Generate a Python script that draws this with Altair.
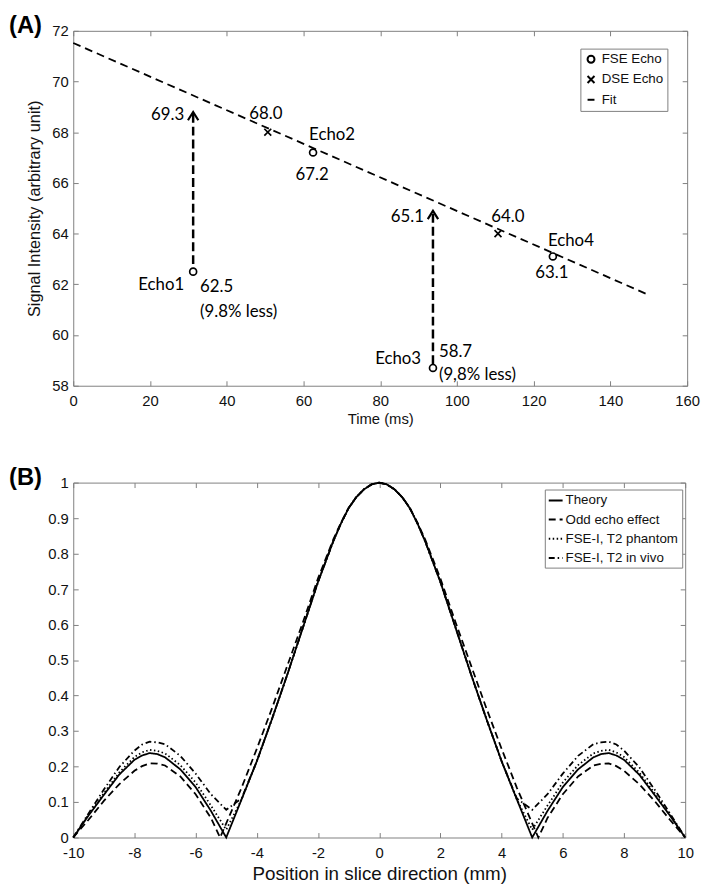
import altair as alt
import pandas as pd

# ---------------- Panel (A) data ----------------
fse_time = [31.25, 62.5, 93.75, 125.0]
fse_signal = [62.5, 67.2, 58.7, 63.1]
fse_names = ["Echo1", "Echo2", "Echo3", "Echo4"]
fse_value_labels = ["62.5", "67.2", "58.7", "63.1"]
dse_time = [50.7, 110.7]
dse_signal = [68.0, 64.0]
dse_value_labels = ["68.0", "64.0"]
fit_time = [0.0, 150.0]
fit_signal = [71.52, 61.58]
arrow_time = [31.25, 93.75]
arrow_from = [62.8, 58.85]
arrow_to = [68.8, 64.9]
arrow_labels = ["69.3", "65.1"]
less_labels = ["(9.8% less)", "(9,8% less)"]
legend_a = ["FSE Echo", "DSE Echo", "Fit"]
xticks_a = [0, 20, 40, 60, 80, 100, 120, 140, 160]
yticks_a = [58, 60, 62, 64, 66, 68, 70, 72]

# ---------------- Panel (B) data ----------------
series_b = ["Theory", "Odd echo effect", "FSE-I, T2 phantom", "FSE-I, T2 in vivo"]
pos = [-10, -9.5, -9, -8.5, -8, -7.75, -7.5, -7.25, -7, -6.5, -6, -5.5, -5, -4.5, -4, -3.5, -3, -2.5, -2,
       -1.5, -1.25, -1, -0.75, -0.5, -0.25, 0, 0.25, 0.5, 0.75, 1, 1.25, 1.5, 2, 2.5, 3, 3.5, 4, 4.5, 5,
       5.5, 6, 6.5, 7, 7.25, 7.5, 7.75, 8, 8.5, 9, 9.5, 10]
theory = [0, 0.062, 0.12, 0.177, 0.219, 0.231, 0.238, 0.235, 0.226, 0.192, 0.142, 0.075, 0.0, 0.107, 0.215,
          0.335, 0.46, 0.59, 0.72, 0.835, 0.885, 0.928, 0.959, 0.981, 0.995, 1.0, 0.995, 0.981, 0.959, 0.928,
          0.885, 0.835, 0.72, 0.59, 0.46, 0.335, 0.215, 0.107, 0.0, 0.075, 0.142, 0.192, 0.226, 0.235, 0.238,
          0.231, 0.219, 0.177, 0.12, 0.062, 0]
phantom = [0, 0.064, 0.125, 0.183, 0.227, 0.24, 0.247, 0.244, 0.237, 0.204, 0.155, 0.09, 0.022, 0.107, 0.215,
           0.335, 0.46, 0.59, 0.72, 0.835, 0.885, 0.928, 0.959, 0.981, 0.995, 1.0, 0.995, 0.981, 0.959, 0.928,
           0.885, 0.835, 0.72, 0.59, 0.46, 0.335, 0.215, 0.107, 0.022, 0.09, 0.155, 0.204, 0.237, 0.244, 0.247,
           0.24, 0.227, 0.183, 0.125, 0.064, 0]
invivo = [0, 0.068, 0.135, 0.198, 0.245, 0.262, 0.27, 0.268, 0.263, 0.23, 0.18, 0.122, 0.078, 0.11, 0.215,
          0.335, 0.46, 0.59, 0.72, 0.835, 0.885, 0.928, 0.959, 0.981, 0.995, 1.0, 0.995, 0.981, 0.959, 0.928,
          0.885, 0.835, 0.72, 0.59, 0.46, 0.335, 0.215, 0.11, 0.078, 0.122, 0.18, 0.23, 0.263, 0.268, 0.27,
          0.262, 0.245, 0.198, 0.135, 0.068, 0]
pos_odd = [-10, -9.5, -9, -8.5, -8, -7.75, -7.5, -7.25, -7, -6.5, -6, -5.5, -5.2, -5, -4.5, -4, -3.5, -3, -2.5,
           -2, -1.5, -1.25, -1, -0.75, -0.5, -0.25, 0, 0.25, 0.5, 0.75, 1, 1.25, 1.5, 2, 2.5, 3, 3.5, 4, 4.5,
           5, 5.2, 5.5, 6, 6.5, 7, 7.25, 7.5, 7.75, 8, 8.5, 9, 9.5, 10]
odd = [0, 0.05, 0.103, 0.15, 0.188, 0.201, 0.209, 0.208, 0.203, 0.172, 0.122, 0.055, 0.0, 0.04, 0.14, 0.25,
       0.365, 0.485, 0.605, 0.73, 0.84, 0.887, 0.929, 0.959, 0.981, 0.995, 1.0, 0.995, 0.981, 0.959, 0.929,
       0.887, 0.84, 0.73, 0.605, 0.485, 0.365, 0.25, 0.14, 0.04, 0.0, 0.055, 0.122, 0.172, 0.203, 0.208,
       0.209, 0.201, 0.188, 0.15, 0.103, 0.05, 0]
xticks_b = [-10, -8, -6, -4, -2, 0, 2, 4, 6, 8, 10]
yticks_b = [0, 0.1, 0.2, 0.3, 0.4, 0.5, 0.6, 0.7, 0.8, 0.9, 1]

FONT = "Liberation Sans"
ANN = "Lato"
GRAY = "#808080"
XPATH = "M-1,-1L1,1M1,-1L-1,1"
ARROW = "M-1,1.6L0,0L1,1.6"


def main_axis(orient, values, title=None, pad=5, title_size=16, title_pad=3):
    kw = dict(orient=orient, values=values, offset=-5, tickSize=5, tickColor=GRAY, tickWidth=1,
              domain=False, grid=False, labelFlush=False, labelOverlap=False, labelFont=FONT,
              labelFontSize=15, labelColor="#111111", labelPadding=pad, titleFont=FONT,
              titleFontSize=title_size, titleFontWeight="normal", titleColor="#111111",
              labelExpr="toString(datum.value)")
    if title is not None:
        kw["title"] = title
        kw["titlePadding"] = title_pad
    else:
        kw["title"] = None
    return alt.Axis(**kw)


def tick_axis(orient, values):
    return alt.Axis(orient=orient, values=values, offset=-5, tickSize=5, tickColor=GRAY, tickWidth=1,
                    domain=False, grid=False, labels=False, title=None)


# ---------------- Panel (A) ----------------
xsA = alt.Scale(domain=[0, 160], nice=False, zero=False)
ysA = alt.Scale(domain=[58, 72], nice=False, zero=False)

fit_df = pd.DataFrame({"t": fit_time, "s": fit_signal})
fit = alt.Chart(fit_df).mark_line(color="black", strokeWidth=1.8, strokeDash=[8, 5]).encode(
    x=alt.X("t:Q", scale=xsA,
            axis=main_axis("bottom", xticks_a, "Time (ms)", pad=8, title_size=15, title_pad=3)),
    y=alt.Y("s:Q", scale=ysA,
            axis=main_axis("left", yticks_a, "Signal Intensity (arbitrary unit)", title_size=16.5,
                           title_pad=9)),
)

pts_df = pd.DataFrame({
    "t": fse_time + dse_time,
    "s": fse_signal + dse_signal,
    "kind": ["FSE Echo"] * len(fse_time) + ["DSE Echo"] * len(dse_time),
})
pts = alt.Chart(pts_df).mark_point(filled=False, color="black", size=49, strokeWidth=1.7, opacity=1).encode(
    x=alt.X("t:Q", scale=xsA, axis=tick_axis("top", xticks_a)),
    y=alt.Y("s:Q", scale=ysA, axis=tick_axis("right", yticks_a)),
    shape=alt.Shape("kind:N", scale=alt.Scale(domain=legend_a, range=["circle", XPATH, "stroke"]),
                    legend=alt.Legend(title=None, orient="none", legendX=513, legendY=18,
                                      strokeColor=GRAY, fillColor="white", padding=4, rowPadding=4.5,
                                      labelFont=FONT, labelFontSize=13.5, labelColor="#111111",
                                      labelOffset=4, symbolSize=49, symbolStrokeWidth=2,
                                      symbolStrokeColor="black", symbolFillColor="transparent",
                                      cornerRadius=0)),
)

arr_df = pd.DataFrame({"t": arrow_time, "a": arrow_from, "b": arrow_to})
shaft = alt.Chart(arr_df).mark_rule(color="black", strokeWidth=2.5, strokeDash=[9, 4]).encode(
    x=alt.X("t:Q", scale=xsA, axis=None),
    y=alt.Y("a:Q", scale=ysA, axis=None),
    y2="b:Q",
)
head = alt.Chart(arr_df).mark_point(shape=ARROW, filled=False, color="black", size=110, strokeWidth=2.2,
                                    opacity=1).encode(
    x=alt.X("t:Q", scale=xsA, axis=None),
    y=alt.Y("b:Q", scale=ysA, axis=None),
)


def label(x, y, text, align, dx, dy):
    df = pd.DataFrame({"x": [x], "y": [y], "txt": [text]})
    return alt.Chart(df).mark_text(align=align, baseline="middle", dx=dx, dy=dy, font=ANN,
                                   fontSize=17, color="black").encode(
        x=alt.X("x:Q", scale=xsA, axis=None),
        y=alt.Y("y:Q", scale=ysA, axis=None),
        text="txt:N",
    )


labels = [
    label(arrow_time[0], arrow_to[0], arrow_labels[0], "right", -9, 3),
    label(arrow_time[1], arrow_to[1], arrow_labels[1], "right", -9, 6),
    label(dse_time[0], dse_signal[0], dse_value_labels[0], "center", -2, -18),
    label(dse_time[1], dse_signal[1], dse_value_labels[1], "center", 10, -17),
    label(fse_time[0], fse_signal[0], fse_names[0], "right", -9, 14),
    label(fse_time[0], fse_signal[0], fse_value_labels[0], "left", 7, 16),
    label(fse_time[0], fse_signal[0], less_labels[0], "left", 7, 41),
    label(fse_time[1], fse_signal[1], fse_names[1], "left", -4, -18),
    label(fse_time[1], fse_signal[1], fse_value_labels[1], "center", -1, 23),
    label(fse_time[2], fse_signal[2], fse_names[2], "right", -12, -9),
    label(fse_time[2], fse_signal[2], fse_value_labels[2], "left", 6, -16),
    label(fse_time[2], fse_signal[2], less_labels[1], "left", 6, 7),
    label(fse_time[3], fse_signal[3], fse_names[3], "left", -5, -16),
    label(fse_time[3], fse_signal[3], fse_value_labels[3], "center", -1, 17),
]

panelA = alt.layer(fit, pts, shaft, head, *labels).resolve_axis(
    x="independent", y="independent"
).properties(
    width=621, height=359,
    title=alt.TitleParams("(A)", anchor="start", frame="group", dx=-65, offset=-14, font=FONT,
                          fontSize=24, fontWeight="bold", color="black"),
)

# ---------------- Panel (B) ----------------
xsB = alt.Scale(domain=[-10, 10], nice=False, zero=False)
ysB = alt.Scale(domain=[0, 1], nice=False, zero=False)

rows = []
for p, v in zip(pos, theory):
    rows.append({"x": p, "y": v, "series": series_b[0]})
for p, v in zip(pos_odd, odd):
    rows.append({"x": p, "y": v, "series": series_b[1]})
for p, v in zip(pos, phantom):
    rows.append({"x": p, "y": v, "series": series_b[2]})
for p, v in zip(pos, invivo):
    rows.append({"x": p, "y": v, "series": series_b[3]})
b_df = pd.DataFrame(rows)

lines = alt.Chart(b_df).mark_line(color="black", strokeWidth=1.8).encode(
    x=alt.X("x:Q", scale=xsB,
            axis=main_axis("bottom", xticks_b, "Position in slice direction (mm)", pad=8, title_size=19,
                           title_pad=4)),
    y=alt.Y("y:Q", scale=ysB, axis=main_axis("left", yticks_b)),
    strokeDash=alt.StrokeDash(
        "series:N",
        scale=alt.Scale(domain=series_b, range=[[1, 0], [7, 4], [1.5, 2.5], [6, 3, 1.5, 3]]),
        legend=alt.Legend(title=None, orient="none", legendX=477, legendY=7, strokeColor=GRAY,
                          fillColor="white", padding=3, rowPadding=4.4, labelFont=FONT,
                          labelFontSize=13.5, labelColor="#111111", labelOffset=2, symbolSize=196,
                          symbolStrokeWidth=2, symbolStrokeColor="black", symbolType="stroke",
                          cornerRadius=0),
    ),
)
ticksB = alt.Chart(b_df).mark_point(opacity=0).encode(
    x=alt.X("x:Q", scale=xsB, axis=tick_axis("top", xticks_b)),
    y=alt.Y("y:Q", scale=ysB, axis=tick_axis("right", yticks_b)),
)

panelB = alt.layer(lines, ticksB).resolve_axis(x="independent", y="independent").properties(
    width=619, height=359,
    title=alt.TitleParams("(B)", anchor="start", frame="group", dx=-65, offset=-14, font=FONT,
                          fontSize=24, fontWeight="bold", color="black"),
)

chart = alt.vconcat(panelA, panelB, spacing=38).resolve_legend(
    shape="independent", strokeDash="independent"
).configure(padding=0).configure_view(stroke=GRAY, strokeWidth=1)

chart.save("out.html", embed_options={"renderer": "svg", "actions": False})
